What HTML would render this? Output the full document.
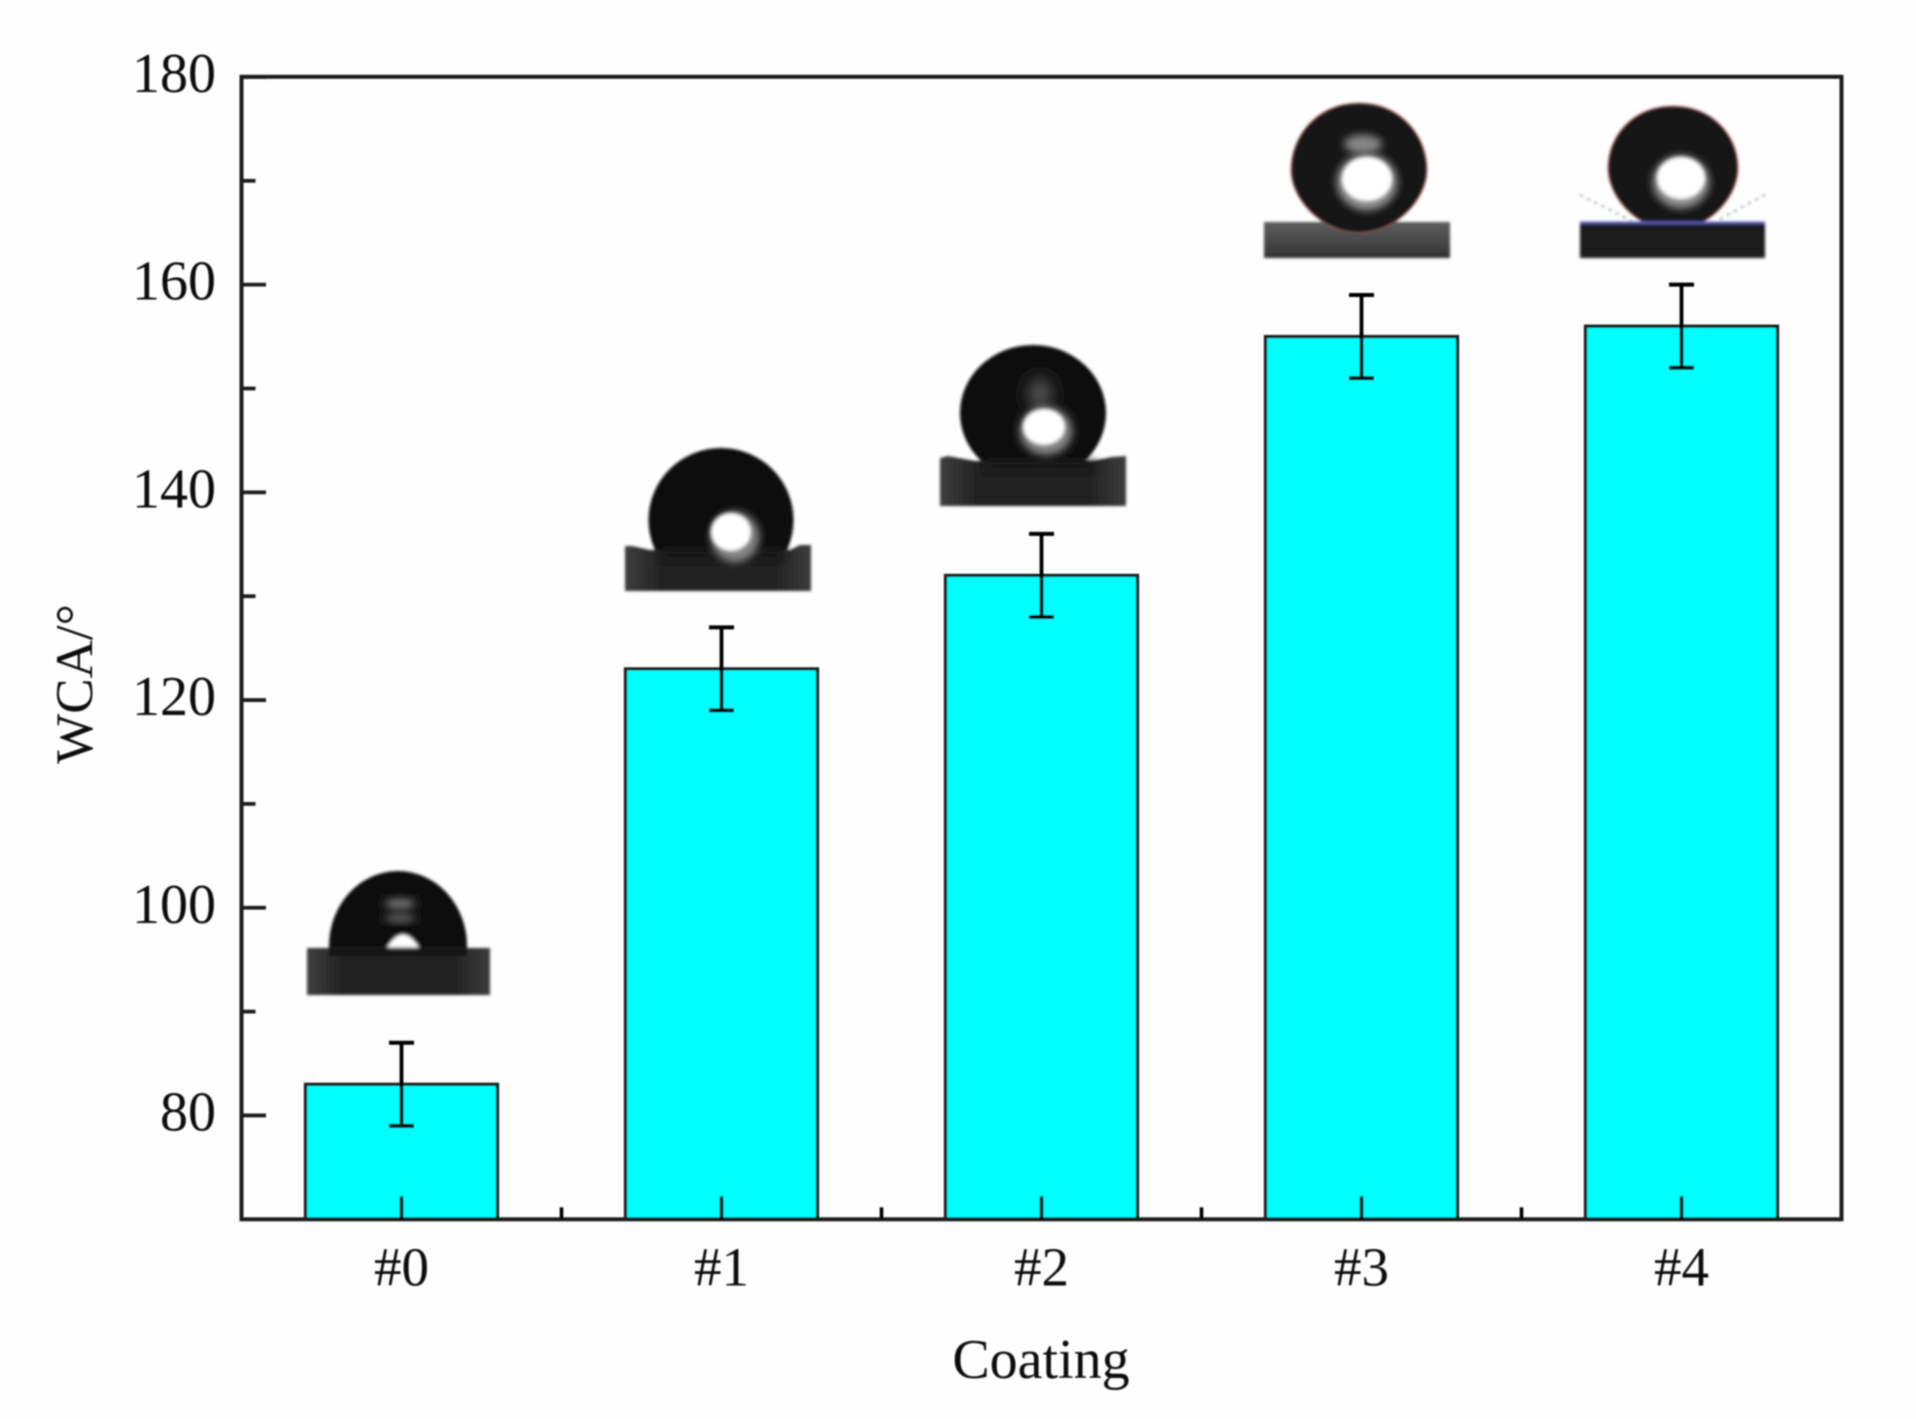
<!DOCTYPE html>
<html lang="en">
<head>
<meta charset="utf-8">
<title>WCA by coating</title>
<style>
html,body{margin:0;padding:0;background:#fefefe;}
svg{display:block;}
text{font-family:"Liberation Serif",serif;fill:#0c0c0c;}
</style>
</head>
<body>
<svg id="chart" xmlns="http://www.w3.org/2000/svg" width="1916" height="1419" viewBox="0 0 1916 1419">
<defs>
<filter id="soft" x="-5%" y="-5%" width="110%" height="110%"><feGaussianBlur stdDeviation="0.7"/></filter>
<filter id="b1" x="-20%" y="-20%" width="140%" height="140%"><feGaussianBlur stdDeviation="1.2"/></filter>
<filter id="b4" x="-50%" y="-50%" width="200%" height="200%"><feGaussianBlur stdDeviation="4"/></filter>
<filter id="b7" x="-80%" y="-80%" width="260%" height="260%"><feGaussianBlur stdDeviation="7"/></filter>
<clipPath id="clip0"><rect x="300" y="860" width="200" height="90"/></clipPath>
<clipPath id="clip1"><rect x="620" y="440" width="200" height="112"/></clipPath>
<clipPath id="clip2"><rect x="930" y="335" width="200" height="127"/></clipPath>
<linearGradient id="sub" x1="0" x2="1" y1="0" y2="0">
<stop offset="0" stop-color="#3e3e3e"/><stop offset=".2" stop-color="#222"/><stop offset=".8" stop-color="#222"/><stop offset="1" stop-color="#3c3c3c"/>
</linearGradient>
<linearGradient id="sub3" x1="0" x2="0" y1="0" y2="1">
<stop offset="0" stop-color="#5c5c5c"/><stop offset=".5" stop-color="#4a4a4a"/><stop offset="1" stop-color="#303030"/>
</linearGradient>
</defs>
<rect x="0" y="0" width="1916" height="1419" fill="#fefefe"/>
<g id="root" filter="url(#soft)">
  <g id="bars-layer"></g>

  <g filter="url(#b1)">
    <ellipse cx="398" cy="946" rx="69" ry="75" fill="#111" clip-path="url(#clip0)"/>
    <rect x="307" y="948" width="183" height="47" fill="url(#sub)"/>
    <rect x="329" y="946" width="138" height="10" fill="#141414"/>
    <ellipse cx="400" cy="904" rx="15" ry="5" fill="#777" filter="url(#b4)"/>
    <ellipse cx="400" cy="918" rx="15" ry="4" fill="#666" filter="url(#b4)"/>
    <path d="M386 948 Q403 920 420 948 Z" fill="#fff" filter="url(#b1)"/>
  </g>

  <g filter="url(#b1)">
    <ellipse cx="721" cy="520" rx="72.5" ry="72" fill="#0f0f0f" clip-path="url(#clip1)"/>
    <path d="M625 546 L632 546 L650 550 L790 550 L800 545 L811 545 L811 591 L625 591 Z" fill="url(#sub)"/>
    <rect x="660" y="549" width="125" height="12" fill="#141414" filter="url(#b4)"/>
    <ellipse cx="735" cy="537" rx="24" ry="25" fill="#888" filter="url(#b4)"/>
    <ellipse cx="731" cy="532" rx="20" ry="19" fill="#fff" filter="url(#b1)"/>
  </g>

  <g filter="url(#b1)">
    <ellipse cx="1033" cy="413" rx="73" ry="68" fill="#101010" clip-path="url(#clip2)"/>
    <ellipse cx="1040" cy="394" rx="12" ry="16" fill="#505050" filter="url(#b7)"/>
    <path d="M940 458 L948 456 L975 461 L1092 461 L1112 457 L1126 456 L1126 506 L940 506 Z" fill="url(#sub)"/>
    <rect x="985" y="460" width="110" height="12" fill="#161616" filter="url(#b4)"/>
    <ellipse cx="1046" cy="431" rx="26" ry="24" fill="#888" filter="url(#b4)"/>
    <ellipse cx="1044" cy="427" rx="21" ry="18" fill="#fff" filter="url(#b1)"/>
  </g>

  <g filter="url(#b1)">
    <rect x="1264" y="222" width="186" height="36" fill="url(#sub3)"/>
    <path d="M1359 103 C1400 103 1427 135 1427 170 C1427 200 1395 233 1359 233 C1323 233 1291 200 1291 170 C1291 135 1318 103 1359 103 Z" fill="#161616" stroke="#a66" stroke-width="0.8"/>
    <ellipse cx="1363" cy="144" rx="19" ry="9" fill="#888" filter="url(#b4)"/>
    <ellipse cx="1367" cy="182" rx="30" ry="28" fill="#999" filter="url(#b4)"/>
    <ellipse cx="1367" cy="179" rx="25" ry="22" fill="#fff" filter="url(#b1)"/>
  </g>

  <g filter="url(#b1)">
    <line x1="1580" y1="195" x2="1632" y2="221" stroke="#6f9a84" stroke-width="1.5" stroke-dasharray="3 5"/>
    <line x1="1765" y1="195" x2="1716" y2="221" stroke="#6f9a84" stroke-width="1.5" stroke-dasharray="3 5"/>
    <path d="M1673 106 C1712 106 1738 135 1738 168 C1738 198 1708 230 1673 230 C1638 230 1608 198 1608 168 C1608 135 1634 106 1673 106 Z" fill="#161616" stroke="#a66" stroke-width="0.8"/>
    <rect x="1580" y="224" width="185" height="34" fill="#1c1c1c"/>
    <rect x="1580" y="221.5" width="185" height="2.5" fill="#5a5ab8"/>
    <ellipse cx="1681" cy="182" rx="28" ry="26" fill="#999" filter="url(#b4)"/>
    <ellipse cx="1681" cy="178" rx="24" ry="21" fill="#fff" filter="url(#b1)"/>
  </g>

  <g id="errors-layer"></g>
  <rect id="plot-frame" x="241.5" y="76.8" width="1600" height="1142.5" fill="none" stroke="#1c1c1c" stroke-width="4"/>
  <g id="ticks-layer"></g>
  <g id="labels-layer"></g>
  <text x="1041" y="1378" font-size="56" text-anchor="middle">Coating</text>
  <text transform="translate(92,684) rotate(-90)" font-size="53" text-anchor="middle">WCA/°</text>
</g>
</svg>
<script>
const categories = ["#0", "#1", "#2", "#3", "#4"];
const wcaValues = [83, 123, 132, 155, 156];
const wcaErrors = [4, 4, 4, 4, 4];
const yMajorTicks = [80, 100, 120, 140, 160, 180];
const yMinorTicks = [90, 110, 130, 150, 170];
const xMinorTicks = [0.5, 1.5, 2.5, 3.5];

const NS = 'http://www.w3.org/2000/svg';
const xScale = function (i) { return 241.5 + (i + 0.5) * 320; };
const yScale = function (v) { return 1219.3 - (v - 70) * 10.385; };
const barWidth = 192;
const capWidth = 25;

function make(tag, parent) {
  const el = document.createElementNS(NS, tag);
  parent.appendChild(el);
  return el;
}
function setLine(el, x1, y1, x2, y2, color, w) {
  el.setAttribute('x1', x1);
  el.setAttribute('y1', y1);
  el.setAttribute('x2', x2);
  el.setAttribute('y2', y2);
  el.setAttribute('stroke', color);
  el.setAttribute('stroke-width', w);
}

const barsLayer = document.getElementById('bars-layer');
const errorsLayer = document.getElementById('errors-layer');
const ticksLayer = document.getElementById('ticks-layer');
const labelsLayer = document.getElementById('labels-layer');

categories.forEach(function (cat, i) {
  const cx = xScale(i);
  const top = yScale(wcaValues[i]);
  const bar = make('rect', barsLayer);
  
  
  bar.setAttribute('x', cx - barWidth / 2);
  bar.setAttribute('y', top);
  bar.setAttribute('width', barWidth);
  bar.setAttribute('height', yScale(70) - top);
  bar.setAttribute('fill', '#00ffff');
  bar.setAttribute('stroke', '#1c1c1c');
  bar.setAttribute('stroke-width', '3.2');

  const hi = yScale(wcaValues[i] + wcaErrors[i]);
  const lo = yScale(wcaValues[i] - wcaErrors[i]);
  const stem = make('line', errorsLayer);
  
  
  setLine(stem, cx, hi, cx, lo, '#000', 3.8);
  const capTop = make('line', errorsLayer);
  
  
  setLine(capTop, cx - capWidth / 2, hi, cx + capWidth / 2, hi, '#000', 4);
  const capBottom = make('line', errorsLayer);
  
  
  setLine(capBottom, cx - capWidth / 2, lo, cx + capWidth / 2, lo, '#000', 4);

  const tick = make('line', ticksLayer);
  
  
  setLine(tick, cx, yScale(70), cx, yScale(70) - 23, '#000', 3.6);

  const label = make('text', labelsLayer);
  
  
  label.setAttribute('x', cx);
  label.setAttribute('y', 1285.5);
  label.setAttribute('font-size', '55');
  label.setAttribute('text-anchor', 'middle');
  label.textContent = cat;
});

xMinorTicks.forEach(function (t) {
  const tick = make('line', ticksLayer);
  
  
  setLine(tick, xScale(t), yScale(70), xScale(t), yScale(70) - 12, '#000', 3.6);
});

yMajorTicks.forEach(function (v) {
  const y = yScale(v);
  const tick = make('line', ticksLayer);
  
  
  setLine(tick, 241.5, y, 266, y, '#1c1c1c', 3.8);
  const label = make('text', labelsLayer);
  
  
  label.setAttribute('x', 216);
  label.setAttribute('y', y + 15);
  label.setAttribute('font-size', '56');
  label.setAttribute('text-anchor', 'end');
  label.textContent = v;
});

yMinorTicks.forEach(function (v) {
  const y = yScale(v);
  const tick = make('line', ticksLayer);
  
  
  setLine(tick, 241.5, y, 255.5, y, '#1c1c1c', 3.8);
});
</script>
</body>
</html>
